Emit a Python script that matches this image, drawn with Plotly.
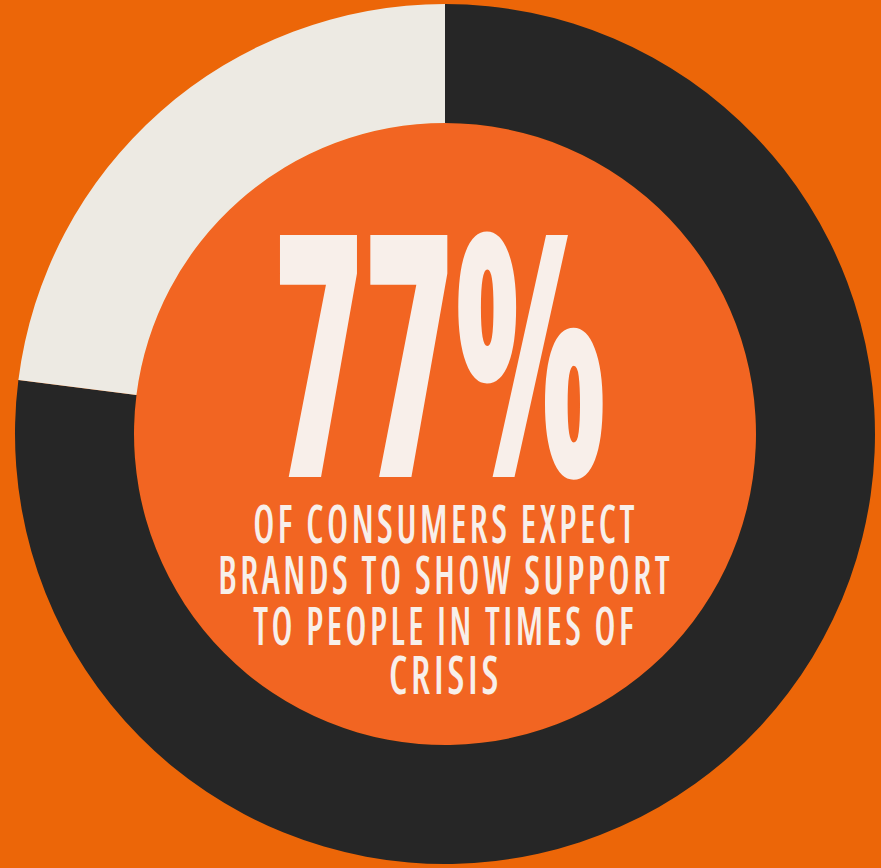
import json
import plotly.graph_objects as go

# Survey split
labels = ["Expect brands to show support", "Do not"]
values = [77, 23]
slice_colors = ["#262626", "#EDEAE3"]

headline = "77%"
caption_lines = [
    "OF CONSUMERS EXPECT",
    "BRANDS TO SHOW SUPPORT",
    "TO PEOPLE IN TIMES OF",
    "CRISIS",
]

W, H = 881, 868
BG = "#EC6608"
HOLE_FILL = "#F26522"
TEXT = "#F8EFEA"

cx, cy = 445, 434          # ring centre, px from top-left
r_out, r_in = 430, 311     # ring radii, px

fig = go.Figure(
    go.Pie(
        labels=labels,
        values=values,
        marker=dict(colors=slice_colors, line=dict(width=0)),
        hole=r_in / r_out,
        sort=False,
        direction="clockwise",
        rotation=0,
        textinfo="none",
        hoverinfo="label+percent",
        showlegend=False,
        domain=dict(x=[(cx - r_out) / W, (cx + r_out) / W],
                    y=[(H - cy - r_out) / H, (H - cy + r_out) / H]),
    )
)

# filled centre of the ring
fig.add_shape(
    type="circle", xref="paper", yref="paper", layer="below",
    x0=(cx - r_in) / W, x1=(cx + r_in) / W,
    y0=(H - cy - r_in) / H, y1=(H - cy + r_in) / H,
    fillcolor=HOLE_FILL, line=dict(width=0),
)


def condensed(text, spacing):
    return f'<span style="font-stretch:75%;letter-spacing:{spacing}">{text}</span>'


annotations = []
target_widths = []

annotations.append(dict(
    x=440 / W, y=1 - 345 / H, xref="paper", yref="paper",
    xanchor="center", yanchor="middle", showarrow=False,
    text=condensed(headline, "0px"),
    font=dict(family="Open Sans", size=339, color=TEXT, weight=800),
))
target_widths.append(334)

caption_y = [522, 573, 624, 673]
caption_w = [385, 455, 384, 113]
for line, y, w in zip(caption_lines, caption_y, caption_w):
    annotations.append(dict(
        x=445 / W, y=1 - y / H, xref="paper", yref="paper",
        xanchor="center", yanchor="middle", showarrow=False,
        text=condensed(line, "5px"),
        font=dict(family="Open Sans", size=53, color=TEXT, weight=570),
    ))
    target_widths.append(w)

fig.update_layout(
    width=W, height=H,
    margin=dict(l=0, r=0, t=0, b=0),
    paper_bgcolor=BG, plot_bgcolor=BG,
    annotations=annotations,
)

# narrow each text block horizontally to its set width
squeeze_js = """
var gd = document.getElementById('{plot_id}');
var widths = %s;
function squeeze() {
  gd.querySelectorAll('.annotation').forEach(function (g) {
    var i = +g.getAttribute('data-index');
    var t = g.querySelector('.annotation-text');
    if (!t || !widths[i]) return;
    t.style.transform = '';
    var bw = t.getBBox().width;
    t.style.transformBox = 'fill-box';
    t.style.transformOrigin = 'center';
    t.style.transform = 'scaleX(' + (widths[i] / bw) + ')';
  });
}
squeeze();
gd.on('plotly_afterplot', squeeze);
""" % json.dumps(target_widths)

fig.write_html("out.html", post_script=squeeze_js)
